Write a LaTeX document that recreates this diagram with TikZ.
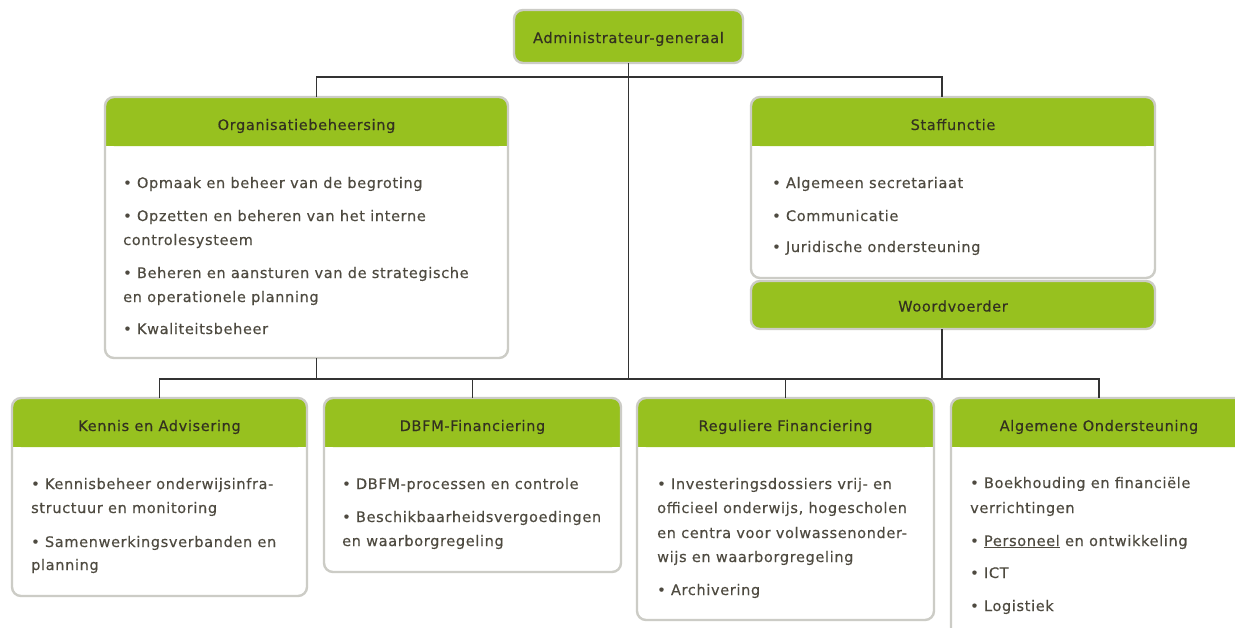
\documentclass[tikz,border=0pt]{standalone}
\usepackage{fontspec}
\usetikzlibrary{calc}
\newfontfamily\orgfont[LetterSpace=4.5,FakeBold=0.35]{DejaVu Sans}
\definecolor{grn}{HTML}{97C11F}
\definecolor{bdr}{HTML}{CCCCC6}
\definecolor{txt}{HTML}{4E4A40}
\definecolor{htxt}{HTML}{33311F}
\definecolor{ln}{HTML}{333333}
\newcommand\bfnt{\orgfont\fontsize{14.5}{25}\selectfont}
\tikzset{
  box/.style={rectangle, fill=white, inner sep=0, outer sep=0, anchor=north west},
  hdr/.style={rectangle, fill=grn, rounded corners=9pt, inner sep=0, outer sep=0, anchor=north west, minimum height=49},
  bd/.style={draw=bdr, line width=2.4pt, rounded corners=9pt},
  ttl/.style={anchor=base, font=\bfnt, text=htxt, inner sep=0},
  body/.style={anchor=base west, font=\bfnt, text=txt, inner sep=0},
  conn/.style={draw=ln, line width=1.4pt},
  gbox/.style={rectangle, fill=grn, draw=bdr, line width=2.4pt, rounded corners=9pt, inner sep=0, outer sep=0, font=\bfnt, text=htxt, text height=13pt, text depth=0pt, anchor=north west},
}
\newcommand\secbox[6]{%
  \node[box, minimum width=#4, minimum height=#5] (#1) at (#2,#3) {};
  \node[hdr, minimum width=#4] (#1-h) at (#2,#3) {};
  \fill[grn] ([yshift=12pt]#1-h.south west) rectangle (#1-h.south east);
  \draw[bd] (#1.south west) rectangle (#1.north east);
  \node[ttl] (#1-t) at ($(#1-h.north)+(0,33)$) {#6};
}
\begin{document}
\begin{tikzpicture}[x=1pt, y=-1pt]
\useasboundingbox (0,0) rectangle (1235,627);
\fill[white] (0,0) rectangle (1235,627);
\clip (0,0) rectangle (1235,627);

% top
\node[gbox, minimum width=229, minimum height=53] (admin) at (514,10) {Administrateur-generaal};
\coordinate (bus1) at (628.5,77);
\coordinate (bus2) at (628.5,379);

\secbox{org}{105}{97}{403}{261}{Organisatiebeheersing}
\secbox{staff}{751}{97}{404}{181}{Staffunctie}
\node[gbox, minimum width=404, minimum height=48] (woord) at (751,281) {Woordvoerder};

\secbox{ka}{12}{398}{295}{198}{Kennis en Advisering}
\secbox{dbfm}{324}{398}{297}{174}{DBFM-Financiering}
\secbox{reg}{637}{398}{297}{222}{Reguliere Financiering}
\secbox{alg}{951}{398}{296}{260}{Algemene Ondersteuning}

% connectors
\draw[conn] (admin.south) -- (bus2);
\draw[conn] ([xshift=10pt]org.north) |- (bus1) -| ([xshift=-11pt]staff.north);
\draw[conn] ([xshift=10pt]org.south) |- (bus2);
\draw[conn] ([xshift=-11pt]woord.south) |- (bus2);
\draw[conn] (ka.north) |- (bus2) -| (alg.north);
\draw[conn] (dbfm.north) |- (bus2);
\draw[conn] (reg.north) |- (bus2);

% body text
\node[body] (o1) at (123,188) {• Opmaak en beheer van de begroting};
\node[body] (o2) at (123,221) {• Opzetten en beheren van het interne};
\node[body] (o3) at (123,245) {controlesysteem};
\node[body] (o4) at (123,278) {• Beheren en aansturen van de strategische};
\node[body] (o5) at (123,302) {en operationele planning};
\node[body] (o6) at (123,334) {• Kwaliteitsbeheer};

\node[body] (s1) at (772,188) {• Algemeen secretariaat};
\node[body] (s2) at (772,221) {• Communicatie};
\node[body] (s3) at (772,252) {• Juridische ondersteuning};

\node[body] (k1) at (31,489) {• Kennisbeheer onderwijsinfra-};
\node[body] (k2) at (31,513) {structuur en monitoring};
\node[body] (k3) at (31,547) {• Samenwerkingsverbanden en};
\node[body] (k4) at (31,570) {planning};

\node[body] (d1) at (342,489) {• DBFM-processen en controle};
\node[body] (d2) at (342,522) {• Beschikbaarheidsvergoedingen};
\node[body] (d3) at (342,546) {en waarborgregeling};

\node[body] (r1) at (657,489) {• Investeringsdossiers vrij- en};
\node[body] (r2) at (657,513) {officieel onderwijs, hogescholen};
\node[body] (r3) at (657,538) {en centra voor volwassenonder-};
\node[body] (r4) at (657,562) {wijs en waarborgregeling};
\node[body] (r5) at (657,595) {• Archivering};

\node[body] (a1) at (970,488) {• Boekhouding en financiële};
\node[body] (a2) at (970,513) {verrichtingen};
\node[body] (a3) at (970,546) {• \underline{Personeel} en ontwikkeling};
\node[body] (a4) at (970,578) {• ICT};
\node[body] (a5) at (970,611) {• Logistiek};
\end{tikzpicture}
\end{document}
